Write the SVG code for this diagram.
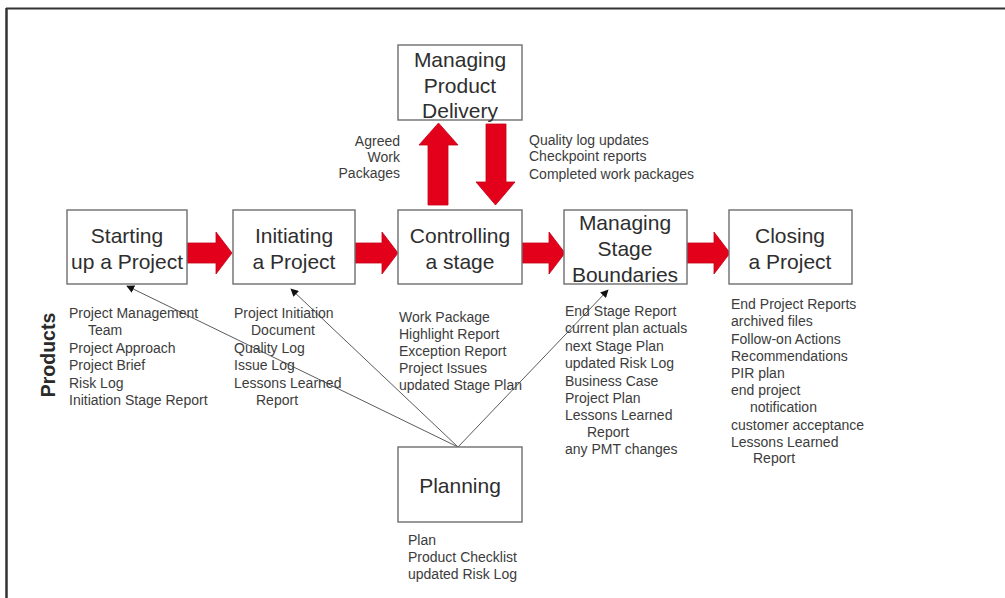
<svg xmlns="http://www.w3.org/2000/svg" width="1005" height="598" viewBox="0 0 1005 598">
  <defs>
    <style>
      .box { fill: #ffffff; stroke: #6e6e6e; stroke-width: 1.4; }
      .lbl { font-family: "Liberation Sans", Arial, sans-serif; font-size: 21px; fill: #2e2e2e; text-anchor: middle; }
      .lst { font-family: "Liberation Sans", Arial, sans-serif; font-size: 14px; fill: #3c3c3c; }
      .rt { text-anchor: end; }
      .big { fill: #e3001b; stroke: #c40016; stroke-width: 0.8; }
      .link { stroke: #5a5a5a; stroke-width: 1; fill: none; marker-end: url(#tip); }
      .frame { stroke: #333333; fill: none; }
    </style>
    <marker id="tip" viewBox="0 0 10 10" refX="9" refY="5" markerWidth="8" markerHeight="8" markerUnits="userSpaceOnUse" orient="auto">
      <path d="M0,0 L10,5 L0,10 Z" fill="#111111"/>
    </marker>
  </defs>

  <rect width="1005" height="598" fill="#ffffff"/>

  <!-- page frame: top and left rules -->
  <g id="frame">
    <line class="frame" x1="6" y1="8.5" x2="1005" y2="8.5" stroke-width="2"/>
    <line class="frame" x1="6.5" y1="8" x2="6.5" y2="598" stroke-width="2.5"/>
  </g>

  <!-- side heading -->
  <text id="products-heading" transform="translate(54.5,355) rotate(-90)" font-family="Liberation Sans, Arial, sans-serif" font-size="19.5" font-weight="bold" fill="#2a2a2a" text-anchor="middle">Products</text>

  <!-- connectors: process flow arrows and planning links -->
  <g id="connectors">
    <polygon class="big" points="186,243 216,243 216,232 232,253 216,274 216,263 186,263"/>
    <polygon class="big" points="354,243 382,243 382,232 398,253 382,274 382,263 354,263"/>
    <polygon class="big" points="520,243 549,243 549,232 565,253 549,274 549,263 520,263"/>
    <polygon class="big" points="686,243 714,243 714,232 730,253 714,274 714,263 686,263"/>
    <!-- to / from Managing Product Delivery -->
    <polygon class="big" points="428,205 428,145 419,145 438.5,123 458,145 448,145 448,205"/>
    <polygon class="big" points="486,124 506,124 506,182 515,182 495.5,205 476,182 486,182"/>
    <!-- planning feeds -->
    <line class="link" x1="458" y1="447" x2="127" y2="286"/>
    <line class="link" x1="458" y1="447" x2="291" y2="289"/>
    <line class="link" x1="458" y1="447" x2="608" y2="290"/>
  </g>

  <g id="n-mpd">
    <rect class="box" x="398" y="45" width="124" height="75"/>
    <text class="lbl" x="460" y="67">Managing</text>
    <text class="lbl" x="460" y="93">Product</text>
    <text class="lbl" x="460" y="118">Delivery</text>
  </g>

  <g id="mpd-labels">
    <text class="lst rt" x="400" y="146">Agreed</text>
    <text class="lst rt" x="400" y="162">Work</text>
    <text class="lst rt" x="400" y="178">Packages</text>
    <text class="lst" x="529" y="145">Quality log updates</text>
    <text class="lst" x="529" y="161">Checkpoint reports</text>
    <text class="lst" x="529" y="179">Completed work packages</text>
  </g>

  <g id="n-start">
    <rect class="box" x="67" y="210" width="120" height="74"/>
    <text class="lbl" x="127" y="243">Starting</text>
    <text class="lbl" x="127" y="269">up a Project</text>
    <text class="lst" x="69" y="318">Project Management</text>
    <text class="lst" x="88" y="335">Team</text>
    <text class="lst" x="69" y="353">Project Approach</text>
    <text class="lst" x="69" y="370">Project Brief</text>
    <text class="lst" x="69" y="388">Risk Log</text>
    <text class="lst" x="69" y="405">Initiation Stage Report</text>
  </g>

  <g id="n-init">
    <rect class="box" x="233" y="210" width="122" height="74"/>
    <text class="lbl" x="294" y="243">Initiating</text>
    <text class="lbl" x="294" y="269">a Project</text>
    <text class="lst" x="234" y="318">Project Initiation</text>
    <text class="lst" x="251" y="335">Document</text>
    <text class="lst" x="234" y="353">Quality Log</text>
    <text class="lst" x="234" y="370">Issue Log</text>
    <text class="lst" x="234" y="388">Lessons Learned</text>
    <text class="lst" x="256" y="405">Report</text>
  </g>

  <g id="n-ctrl">
    <rect class="box" x="398" y="210" width="124" height="74"/>
    <text class="lbl" x="460" y="243">Controlling</text>
    <text class="lbl" x="460" y="269">a stage</text>
    <text class="lst" x="399" y="322">Work Package</text>
    <text class="lst" x="399" y="339">Highlight Report</text>
    <text class="lst" x="399" y="356">Exception Report</text>
    <text class="lst" x="399" y="373">Project Issues</text>
    <text class="lst" x="399" y="390">updated Stage Plan</text>
  </g>

  <g id="n-msb">
    <rect class="box" x="564" y="210" width="123" height="74"/>
    <text class="lbl" x="625" y="230">Managing</text>
    <text class="lbl" x="625" y="256">Stage</text>
    <text class="lbl" x="625" y="282">Boundaries</text>
    <text class="lst" x="565" y="316">End Stage Report</text>
    <text class="lst" x="565" y="333">current plan actuals</text>
    <text class="lst" x="565" y="351">next Stage Plan</text>
    <text class="lst" x="565" y="368">updated Risk Log</text>
    <text class="lst" x="565" y="386">Business Case</text>
    <text class="lst" x="565" y="403">Project Plan</text>
    <text class="lst" x="565" y="420">Lessons Learned</text>
    <text class="lst" x="587" y="437">Report</text>
    <text class="lst" x="565" y="454">any PMT changes</text>
  </g>

  <g id="n-close">
    <rect class="box" x="729" y="210" width="123" height="74"/>
    <text class="lbl" x="790" y="243">Closing</text>
    <text class="lbl" x="790" y="269">a Project</text>
    <text class="lst" x="731" y="309">End Project Reports</text>
    <text class="lst" x="731" y="326">archived files</text>
    <text class="lst" x="731" y="344">Follow-on Actions</text>
    <text class="lst" x="731" y="361">Recommendations</text>
    <text class="lst" x="731" y="378">PIR plan</text>
    <text class="lst" x="731" y="395">end project</text>
    <text class="lst" x="750" y="412">notification</text>
    <text class="lst" x="731" y="430">customer acceptance</text>
    <text class="lst" x="731" y="447">Lessons Learned</text>
    <text class="lst" x="753" y="463">Report</text>
  </g>

  <g id="n-plan">
    <rect class="box" x="398" y="447" width="124" height="75"/>
    <text class="lbl" x="460" y="493">Planning</text>
    <text class="lst" x="408" y="545">Plan</text>
    <text class="lst" x="408" y="562">Product Checklist</text>
    <text class="lst" x="408" y="579">updated Risk Log</text>
  </g>
</svg>
